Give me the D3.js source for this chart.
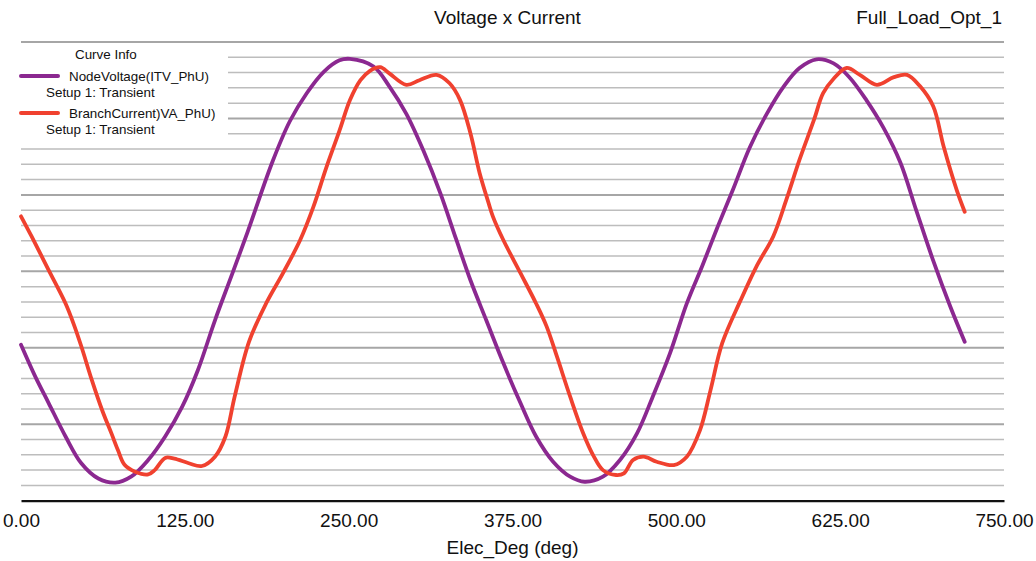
<!DOCTYPE html>
<html>
<head>
<meta charset="utf-8">
<script src="https://cdn.jsdelivr.net/npm/d3@7"></script>
<style>
  html, body { margin: 0; padding: 0; background: #fff; }
  svg { display: block; font-family: "Liberation Sans", Arial, Helvetica, sans-serif; }
</style>
</head>
<body>
<svg id="chart" width="1036" height="561"></svg>
<script>
// ---- data (y values in plot grid units, 0..30; x in electrical degrees) ----
const chartTitle = "Voltage x Current";
const chartSubtitle = "Full_Load_Opt_1";
const xAxisLabel = "Elec_Deg (deg)";
const xTicks = [0, 125, 250, 375, 500, 625, 750];

const seriesNames = ["NodeVoltage(ITV_PhU)", "BranchCurrent)VA_PhU)"];
const seriesSetup = ["Setup 1: Transient", "Setup 1: Transient"];
const seriesColors = ["#8B2890", "#F0412F"];

const voltageDeg = [0, 11, 21, 34, 46, 59, 72, 84, 97, 110, 123, 135, 148, 161, 173, 192, 205, 218, 231, 243, 251, 269, 281, 294, 307, 320, 332, 343, 355, 368, 381, 393, 406, 419, 430, 444, 457, 470, 482, 495, 508, 520, 531, 543, 556, 569, 582, 594, 607, 620, 632, 645, 658, 671, 683, 696, 709, 720];
const voltageVal = [10.2, 8.1, 6.4, 4.2, 2.45, 1.45, 1.18, 1.57, 2.66, 4.2, 6.15, 8.55, 11.8, 14.8, 17.6, 22.2, 24.8, 26.65, 28.05, 28.8, 28.9, 28.4, 27.1, 25.3, 22.9, 20.1, 17.1, 14.4, 11.8, 9.0, 6.4, 4.2, 2.55, 1.57, 1.24, 1.57, 2.66, 4.4, 6.8, 9.6, 12.9, 15.4, 17.8, 20.3, 23.1, 25.3, 27.1, 28.3, 28.87, 28.6, 27.7, 26.2, 24.4, 22.1, 19.0, 15.7, 12.7, 10.4];

const currentDeg = [0, 8, 21, 34, 40, 46, 54, 62, 69, 74, 79, 87, 97, 102, 110, 117, 128, 138, 148, 156, 163, 174, 187, 200, 213, 223, 233, 243, 251, 259, 266, 274, 281, 294, 304, 317, 327, 335, 343, 350, 357, 360, 368, 381, 393, 401, 409, 419, 429, 437, 444, 454, 460, 467, 475, 485, 498, 508, 518, 526, 535, 549, 561, 574, 584, 594, 605, 612, 620, 630, 640, 653, 666, 676, 686, 696, 704, 714, 720];
const currentVal = [18.6, 17.3, 15.1, 12.9, 11.6, 10.1, 7.9, 5.9, 4.4, 3.3, 2.35, 1.9, 1.72, 2.0, 2.8, 2.75, 2.45, 2.27, 2.88, 4.2, 6.8, 10.4, 12.9, 14.9, 17.05, 19.2, 21.8, 24.2, 26.2, 27.5, 28.1, 28.35, 27.95, 27.2, 27.5, 27.85, 27.3, 26.2, 24.0, 21.4, 19.4, 18.6, 17.05, 14.9, 12.9, 11.4, 9.4, 6.8, 4.4, 2.9, 2.0, 1.68, 1.79, 2.66, 2.88, 2.55, 2.33, 2.88, 4.6, 7.2, 10.3, 13.1, 15.3, 17.3, 19.7, 22.3, 24.9, 26.65, 27.6, 28.3, 27.85, 27.2, 27.7, 27.85, 27.1, 25.8, 23.15, 20.3, 18.9];

const gridCount = 30;   // minor grid divisions
const majorEvery = 5;   // darker line every 5

// ---- drawing ----
const svg = d3.select("#chart");
const x = d3.scaleLinear().domain([0, 750]).range([21, 1004]);
const y = d3.scaleLinear().domain([0, gridCount]).range([500.7, 42]);

// gridlines
const gridVals = d3.range(1, gridCount + 1);
svg.append("g").selectAll("line").data(gridVals).join("line")
  .attr("x1", x(0)).attr("x2", x(750))
  .attr("y1", d => y(d)).attr("y2", d => y(d))
  .attr("stroke", d => d % majorEvery === 0 ? "#a6a6a6" : "#bdbdbd")
  .attr("stroke-width", d => d % majorEvery === 0 ? 2 : 1.5);

// legend backdrop (hides gridlines beneath legend)
svg.append("rect").attr("x", 18).attr("y", y(29.8)).attr("width", 210)
  .attr("height", y(23.2) - y(29.8)).attr("fill", "#fff");

// x axis
const xAxis = d3.axisBottom(x).tickValues(xTicks).tickFormat(d3.format(".2f"))
  .tickSize(0).tickSizeOuter(0).tickPadding(13);
const gx = svg.append("g").attr("transform", `translate(0,${y(0)})`).call(xAxis);
gx.select(".domain").attr("stroke", "#111").attr("stroke-width", 2.2);
gx.selectAll("text").attr("font-size", 19).attr("fill", "#111")
  .attr("font-family", "'Liberation Sans', Arial, sans-serif");

// lines
const line = d3.line().x(d => x(d[0])).y(d => y(d[1])).curve(d3.curveCatmullRom.alpha(0.5));
const series = [
  d3.zip(voltageDeg, voltageVal),
  d3.zip(currentDeg, currentVal)
];
svg.append("g").selectAll("path").data(series).join("path")
  .attr("d", line)
  .attr("fill", "none")
  .attr("stroke", (d, i) => seriesColors[i])
  .attr("stroke-width", 3.8)
  .attr("stroke-linecap", "round")
  .attr("stroke-linejoin", "round");

// titles
svg.append("text").attr("x", 507.5).attr("y", 24).attr("text-anchor", "middle")
  .attr("font-size", 19).attr("fill", "#111").text(chartTitle);
svg.append("text").attr("x", 1002).attr("y", 24).attr("text-anchor", "end")
  .attr("font-size", 19).attr("fill", "#111").text(chartSubtitle);
svg.append("text").attr("x", 512.5).attr("y", 554).attr("text-anchor", "middle")
  .attr("font-size", 19).attr("fill", "#111").text(xAxisLabel);

// legend
const lg = svg.append("g").attr("font-size", 13.4).attr("fill", "#111");
lg.append("text").attr("x", 75).attr("y", 59).text("Curve Info");
seriesNames.forEach((name, i) => {
  const ly = i === 0 ? 76 : 113;
  lg.append("line").attr("x1", 21).attr("x2", 58).attr("y1", ly).attr("y2", ly)
    .attr("stroke", seriesColors[i]).attr("stroke-width", 4).attr("stroke-linecap", "round");
  lg.append("text").attr("x", 69).attr("y", ly + 5).text(name);
  lg.append("text").attr("x", 46).attr("y", ly + 21).text(seriesSetup[i]);
});
</script>
</body>
</html>
